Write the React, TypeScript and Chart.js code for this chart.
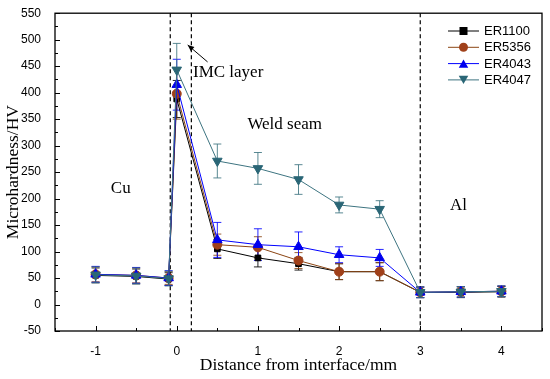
import React, { useEffect, useRef } from "react";
import { Chart, registerables } from "chart.js";

Chart.register(...registerables);

const xValues = [-1, -0.5, -0.1, 0, 0.5, 1, 1.5, 2, 2.5, 3, 3.5, 4];
const seriesNames = ["ER1100", "ER5356", "ER4043", "ER4047"];
const er1100 = [55, 53, 48, 388, 105, 88, 77, 62, 62, 23, 23, 24];
const er5356 = [57, 55, 50, 398, 113, 108, 83, 62, 62, 23, 24, 25];
const er4043 = [57, 55, 50, 415, 122, 113, 109, 94, 88, 23, 24, 25];
const er4047 = [56, 54, 49, 443, 271, 257, 236, 188, 180, 23, 24, 25];
const err1100 = [14, 14, 12, 35, 18, 17, 12, 15, 17, 10, 10, 10];
const err5356 = [14, 14, 12, 48, 20, 20, 15, 15, 17, 10, 10, 10];
const err4043 = [15, 15, 14, 48, 33, 30, 28, 15, 16, 10, 10, 10];
const err4047 = [15, 15, 14, 50, 32, 30, 28, 15, 16, 10, 10, 10];
const xTickValues = [-1, 0, 1, 2, 3, 4];
const dashedLines = [-0.08, 0.18, 3];
const regionLabels = [
  { text: "Cu", x: -0.69, y: 219, align: "center" },
  { text: "Weld seam", x: 1.33, y: 340, align: "center" },
  { text: "Al", x: 3.47, y: 187, align: "center" },
  { text: "IMC layer", x: 0.2, y: 438, align: "left" },
];
const arrowFrom = { x: 0.38, y: 458 };
const arrowTo = { x: 0.135, y: 490 };

const colors = ["#000000", "#8b4513", "#0000ff", "#3d7480"];
const markerColors = ["#000000", "#a0401a", "#0000ee", "#2a6676"];
const pointStyles = ["rect", "circle", "triangle", "triangle"];
const rotations = [0, 0, 0, 180];
const radii = [4, 4.5, 5.5, 5.5];
const seriesData = [er1100, er5356, er4043, er4047];
const seriesErr = [err1100, err5356, err4043, err4047];

const serif = "'Liberation Serif', 'Times New Roman', serif";
const sans = "'Liberation Sans', Arial, sans-serif";

function drawMarker(ctx: CanvasRenderingContext2D, style: string, rot: number, r: number, x: number, y: number) {
  ctx.beginPath();
  if (style === "rect") {
    ctx.rect(x - r, y - r, 2 * r, 2 * r);
  } else if (style === "circle") {
    ctx.arc(x, y, r, 0, Math.PI * 2);
  } else {
    const a = (rot * Math.PI) / 180;
    for (let k = 0; k < 3; k++) {
      const t = a - Math.PI / 2 + (k * 2 * Math.PI) / 3;
      const px = x + r * Math.cos(t);
      const py = y + r * Math.sin(t) + (rot === 180 ? -r * 0.25 : r * 0.25);
      if (k === 0) ctx.moveTo(px, py);
      else ctx.lineTo(px, py);
    }
    ctx.closePath();
  }
  ctx.fill();
}

const boxPlugin = {
  id: "boxAndExtras",
  beforeDatasetsDraw(chart: any) {
    const { ctx } = chart;
    const xs = chart.scales.x;
    const ys = chart.scales.y;
    chart.data.datasets.forEach((ds: any, di: number) => {
      const meta = chart.getDatasetMeta(di);
      const errs = seriesErr[di];
      ctx.save();
      ctx.strokeStyle = colors[di];
      ctx.globalAlpha = 0.85;
      ctx.lineWidth = 1;
      meta.data.forEach((pt: any, i: number) => {
        const v = ds.data[i].y;
        const e = errs[i];
        const x = pt.x;
        const yt = ys.getPixelForValue(v + e);
        const yb = ys.getPixelForValue(v - e);
        ctx.beginPath();
        ctx.moveTo(x, yt);
        ctx.lineTo(x, yb);
        ctx.moveTo(x - 4, yt);
        ctx.lineTo(x + 4, yt);
        ctx.moveTo(x - 4, yb);
        ctx.lineTo(x + 4, yb);
        ctx.stroke();
      });
      ctx.restore();
    });
    const { top, bottom } = chart.chartArea;
    ctx.save();
    ctx.strokeStyle = "#000";
    ctx.lineWidth = 1.2;
    ctx.setLineDash([4, 3]);
    dashedLines.forEach((v) => {
      const x = xs.getPixelForValue(v);
      ctx.beginPath();
      ctx.moveTo(x, top);
      ctx.lineTo(x, bottom);
      ctx.stroke();
    });
    ctx.restore();
  },
  afterDraw(chart: any) {
    const { ctx } = chart;
    const { left, right, top, bottom } = chart.chartArea;
    const xs = chart.scales.x;
    const ys = chart.scales.y;
    ctx.save();
    ctx.strokeStyle = "#000";
    ctx.lineWidth = 1.3;
    ctx.strokeRect(left, top, right - left, bottom - top);
    ctx.lineWidth = 1;
    for (let v = -50; v <= 550; v += 25) {
      const y = Math.round(ys.getPixelForValue(v)) + 0.5;
      const len = v % 50 === 0 ? 5 : 3;
      ctx.beginPath();
      ctx.moveTo(left, y);
      ctx.lineTo(left + len, y);
      ctx.stroke();
    }
    for (let v = -1.5; v <= 4.5; v += 0.5) {
      const x = Math.round(xs.getPixelForValue(v)) + 0.5;
      const len = Number.isInteger(v) ? 5 : 3;
      ctx.beginPath();
      ctx.moveTo(x, bottom);
      ctx.lineTo(x, bottom - len);
      ctx.stroke();
    }
    ctx.fillStyle = "#000";
    ctx.font = `17px ${serif}`;
    ctx.textBaseline = "middle";
    regionLabels.forEach((l) => {
      ctx.textAlign = l.align as CanvasTextAlign;
      ctx.fillText(l.text, xs.getPixelForValue(l.x), ys.getPixelForValue(l.y));
    });
    const ax0 = xs.getPixelForValue(arrowFrom.x);
    const ay0 = ys.getPixelForValue(arrowFrom.y);
    const ax1 = xs.getPixelForValue(arrowTo.x);
    const ay1 = ys.getPixelForValue(arrowTo.y);
    ctx.beginPath();
    ctx.moveTo(ax0, ay0);
    ctx.lineTo(ax1, ay1);
    ctx.stroke();
    const ang = Math.atan2(ay1 - ay0, ax1 - ax0);
    ctx.beginPath();
    ctx.moveTo(ax1, ay1);
    ctx.lineTo(ax1 - 7 * Math.cos(ang - 0.4), ay1 - 7 * Math.sin(ang - 0.4));
    ctx.lineTo(ax1 - 7 * Math.cos(ang + 0.4), ay1 - 7 * Math.sin(ang + 0.4));
    ctx.closePath();
    ctx.fill();
    const lx0 = 448;
    const lx1 = 479;
    const ly0 = 31;
    const dy = 16.3;
    ctx.font = `13px ${sans}`;
    ctx.textAlign = "left";
    seriesNames.forEach((name, i) => {
      const y = ly0 + i * dy;
      ctx.strokeStyle = colors[i];
      ctx.beginPath();
      ctx.moveTo(lx0, y);
      ctx.lineTo(lx1, y);
      ctx.stroke();
      ctx.fillStyle = markerColors[i];
      drawMarker(ctx, pointStyles[i], rotations[i], radii[i], (lx0 + lx1) / 2, y);
      ctx.fillStyle = "#000";
      ctx.fillText(name, 484, y + 0.5);
    });
    ctx.restore();
  },
};

export default function App() {
  const ref = useRef<HTMLCanvasElement>(null);
  useEffect(() => {
    document.body.style.margin = "0";
    const datasets = seriesNames.map((name, i) => ({
      label: name,
      data: xValues.map((x, j) => ({ x, y: seriesData[i][j] })),
      borderColor: colors[i],
      backgroundColor: markerColors[i],
      pointBackgroundColor: markerColors[i],
      pointBorderColor: markerColors[i],
      pointStyle: pointStyles[i],
      rotation: rotations[i],
      pointRadius: radii[i],
      borderWidth: 1,
      pointBorderWidth: 1,
      tension: 0,
      order: 3 - i,
    }));
    const chart = new Chart(ref.current!, {
      type: "line",
      data: { datasets },
      plugins: [boxPlugin],
      options: {
        animation: false,
        responsive: false,
        maintainAspectRatio: false,
        layout: { padding: { top: 13, right: 8, left: 0, bottom: 0 } },
        plugins: { legend: { display: false }, tooltip: { enabled: false } },
        scales: {
          x: {
            type: "linear",
            min: -1.5,
            max: 4.5,
            grid: { display: false },
            border: { display: false },
            afterBuildTicks: (s: any) => {
              s.ticks = xTickValues.map((v) => ({ value: v }));
            },
            afterFit: (s: any) => {
              s.height = 48;
            },
            ticks: { color: "#000", font: { family: sans, size: 12 }, padding: 5, maxRotation: 0 },
            title: {
              display: true,
              text: "Distance from interface/mm",
              color: "#000",
              font: { family: serif, size: 17.5 },
              padding: { top: 0, bottom: 3 },
            },
          },
          y: {
            min: -50,
            max: 550,
            grid: { display: false },
            border: { display: false },
            ticks: { stepSize: 50, color: "#000", font: { family: sans, size: 12 }, padding: 6 },
            afterFit: (s: any) => {
              s.width = 55;
            },
            title: {
              display: true,
              text: "Microhardness/HV",
              color: "#000",
              font: { family: serif, size: 17.5 },
              padding: { top: 3, bottom: 0 },
            },
          },
        },
      },
    });
    return () => chart.destroy();
  }, []);
  return (
    <div style={{ width: 550, height: 379 }}>
      <canvas ref={ref} width={550} height={379} style={{ display: "block" }} />
    </div>
  );
}
